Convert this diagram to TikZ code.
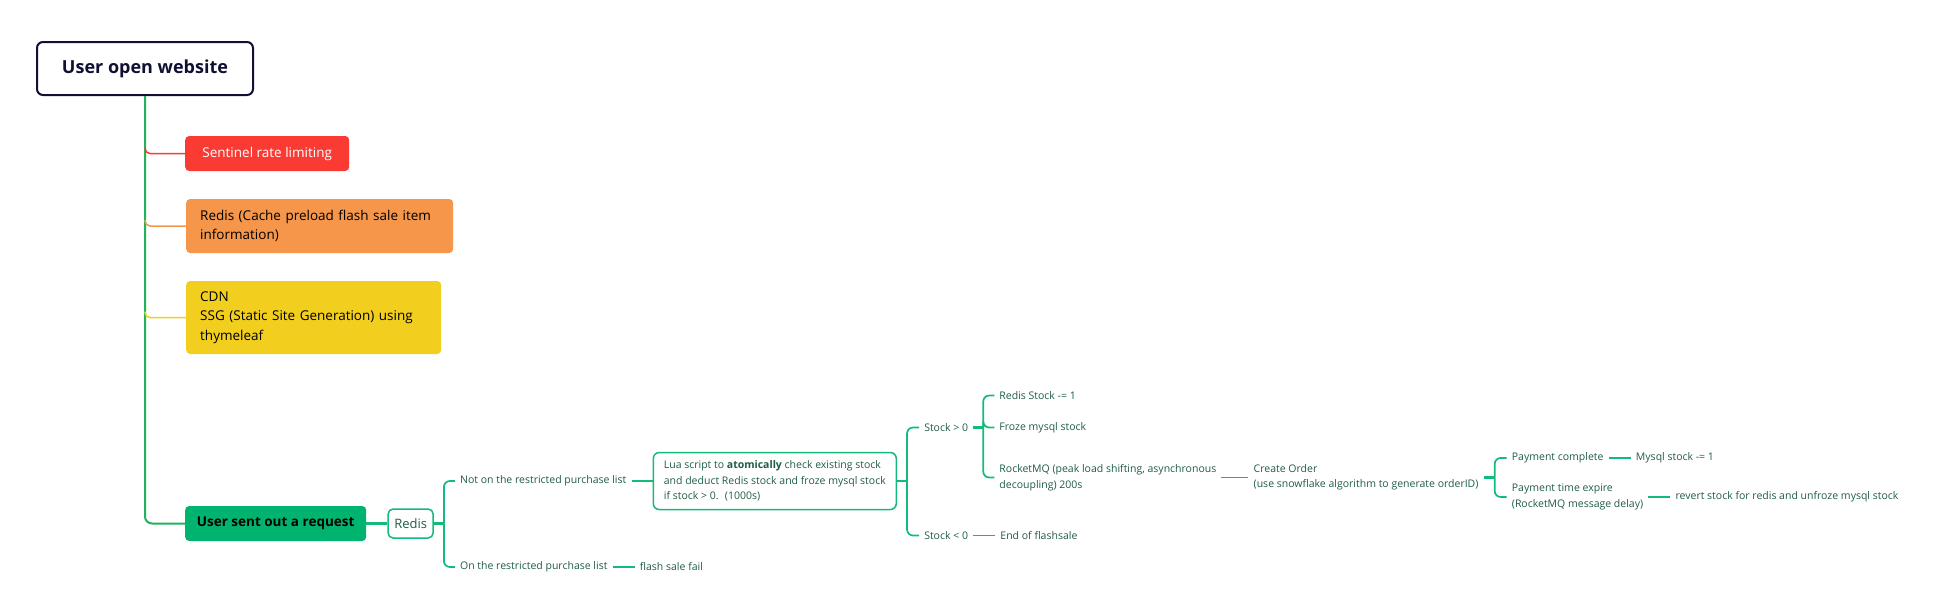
\documentclass[tikz,border=0pt]{standalone}
\usepackage{fontspec}
\setmainfont{Open Sans}
\usepackage{tikz}
\usetikzlibrary{positioning}
\definecolor{navy}{HTML}{0F1033}
\definecolor{sentred}{HTML}{FA3B34}
\definecolor{cacheorange}{HTML}{F5964A}
\definecolor{cdnyellow}{HTML}{F2CF1E}
\definecolor{reqgreen}{HTML}{00B36E}
\definecolor{trunkgreen}{HTML}{22B35A}
\definecolor{linegreen}{HTML}{14BA7A}
\definecolor{leaftxt}{HTML}{1F5C42}

\begin{document}
\begin{tikzpicture}[x=1pt,y=-1pt, node distance=22pt,
  topic/.style={rectangle, rounded corners=4pt, anchor=west, inner xsep=14pt, align=left, font=\fontsize{13.5}{19.5}\selectfont},
  leaf/.style={anchor=west, inner xsep=5pt, inner ysep=1pt, align=left, text=leaftxt, font=\fontsize{10.5}{15.5}\selectfont},
  link/.style={draw=linegreen, line width=1.7pt, rounded corners=6pt},
  stub/.style={draw=linegreen, line width=2.2pt}]
\useasboundingbox (0,0) rectangle (1937,592);
\node[draw=navy, line width=2pt, rounded corners=6pt, minimum width=216pt, minimum height=53pt, text=navy, font=\bfseries\fontsize{18}{22}\selectfont] (root) at (145,68.5){User open website};
\node[topic, fill=sentred, text=white, minimum width=164pt, minimum height=35pt] (sentinel) at (185,153.5){Sentinel rate limiting};
\node[topic, fill=cacheorange, text width=239pt, minimum height=54pt] (cache) at (186,226){Redis (Cache preload flash sale item\\information)};
\node[topic, fill=cdnyellow, text width=227pt, minimum height=73pt] (cdn) at (186,317.5){CDN\\SSG (Static Site Generation) using\\thymeleaf};
\node[topic, fill=reqgreen, align=center, inner xsep=6pt, minimum width=181pt, minimum height=35pt, font=\bfseries\fontsize{13.5}{16}\selectfont] (request) at (185,523.5){User sent out a request};
\node[draw=linegreen, line width=1.5pt, rounded corners=5pt, minimum width=45pt, minimum height=29pt, text=leaftxt, font=\fontsize{13}{16}\selectfont, right=21pt of request] (redis){Redis};

% Redis check
\coordinate (j1) at ([xshift=10pt]redis.east);
\node[leaf] (notlist) at ([shift={(11,-42.5)}]j1){Not on the restricted purchase list};
\node[leaf] (onlist) at ([shift={(11,43.5)}]j1){On the restricted purchase list};
\node[leaf, right=of onlist] (fail){flash sale fail};
\node[leaf, draw=linegreen, line width=1.5pt, rounded corners=6pt, inner xsep=4pt, minimum width=243pt, minimum height=57pt, right=21pt of notlist] (lua){Lua script to \textbf{atomically} check existing stock\\and deduct Redis stock and froze mysql stock\\if stock > 0.~ (1000s)};

% stock
\coordinate (j2) at ([xshift=10pt]lua.east);
\node[leaf] (gt) at ([shift={(12,-53.5)}]j2){Stock > 0};
\node[leaf] (lt) at ([shift={(12,54.5)}]j2){Stock < 0};
\node[leaf, right=of lt] (endfs){End of flashsale};
\coordinate (j3) at ([xshift=10pt]gt.east);
\node[leaf] (rdec) at ([shift={(11,-32)}]j3){Redis Stock -= 1};
\node[leaf] (froze) at ([shift={(11,0)}]j3){Froze mysql stock};
\node[leaf] (rmq) at ([shift={(11,50)}]j3){RocketMQ (peak load shifting, asynchronous\\decoupling) 200s};
\node[leaf, right=27pt of rmq] (order){Create Order\\(use snowflake algorithm to generate orderID)};

% payment
\coordinate (j4) at ([xshift=11pt]order.east);
\node[leaf] (paid) at ([shift={(12,-19.5)}]j4){Payment complete};
\node[leaf] (expire) at ([shift={(12,19.5)}]j4){Payment time expire\\(RocketMQ message delay)};
\node[leaf, right=of paid] (mysqldec){Mysql stock -= 1};
\node[leaf, right=of expire] (revert){revert stock for redis and unfroze mysql stock};

% trunk and first level
\coordinate (t1) at (root.south |- sentinel.west);
\coordinate (t2) at (root.south |- cache.west);
\coordinate (t3) at (root.south |- cdn.west);
\draw[trunkgreen, line width=2pt, rounded corners=7pt] (root.south) |- (request.west);
\draw[sentred, line width=1.5pt, rounded corners=5pt] ([yshift=6pt]t1) |- (sentinel.west);
\draw[cacheorange, line width=1.5pt, rounded corners=5pt] ([yshift=6pt]t2) |- (cache.west);
\draw[cdnyellow, line width=1.5pt, rounded corners=5pt] ([yshift=6pt]t3) |- (cdn.west);
\draw[stub] (request.east) -- (redis.west);

% branches
\draw[stub] (redis.east) -- (j1);
\draw[stub] (lua.east) -- (j2);
\draw[stub] (gt.east) -- (j3);
\draw[stub] (order.east) -- (j4);
\foreach \c in {notlist,onlist} \draw[link] (j1) |- (\c.west);
\foreach \c in {gt,lt} \draw[link] (j2) |- (\c.west);
\foreach \c in {rdec,froze,rmq} \draw[link] (j3) |- (\c.west);
\foreach \c in {paid,expire} \draw[link] (j4) |- (\c.west);
\draw[link] (notlist.east) -- (lua.west);
\draw[link] (onlist.east) -- (fail.west);
\draw[link] (lt.east) -- (endfs.west);
\draw[link] (rmq.east) -- (order.west);
\draw[link] (paid.east) -- (mysqldec.west);
\draw[link] (expire.east) -- (revert.west);
\end{tikzpicture}
\end{document}
